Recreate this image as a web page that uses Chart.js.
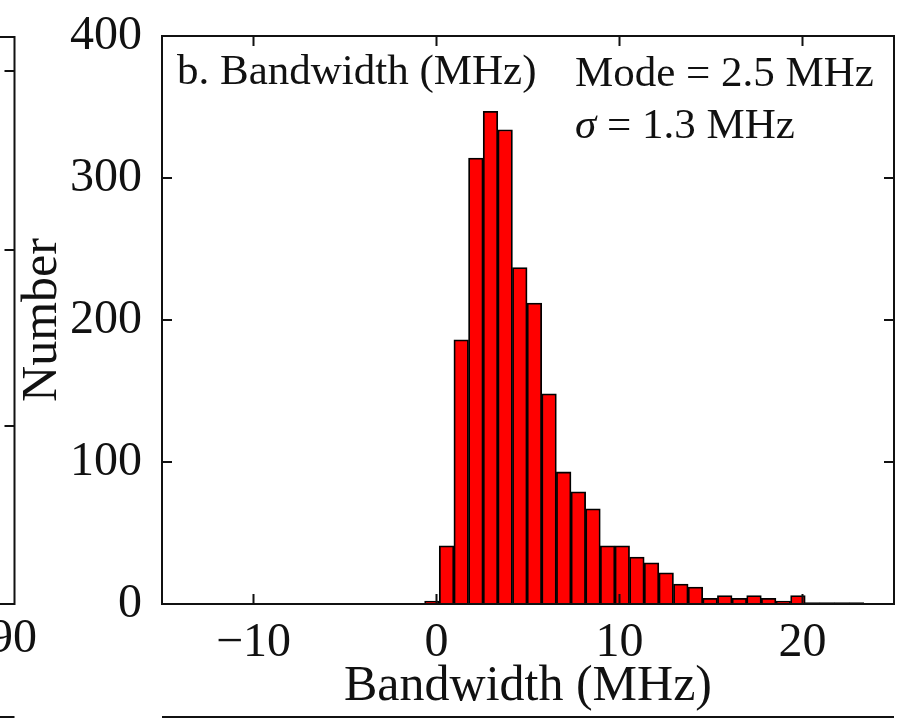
<!DOCTYPE html>
<html>
<head>
<meta charset="utf-8">
<title>b. Bandwidth (MHz)</title>
<script src="https://cdn.jsdelivr.net/npm/chart.js@4"></script>
<style>
  html, body { margin: 0; padding: 0; background: #fff; }
  canvas { display: block; }
</style>
</head>
<body>
<canvas id="chart" width="898" height="720"></canvas>
<script>
// histogram bins (MHz), left edge of each bin, bin width 0.8
const binStarts = [-0.65, 0.15, 0.95, 1.75, 2.55, 3.35, 4.15, 4.95, 5.75, 6.55,
  7.35, 8.15, 8.95, 9.75, 10.55, 11.35, 12.15, 12.95, 13.75, 14.55,
  15.35, 16.15, 16.95, 17.75, 18.55, 19.35, 20.15, 20.95, 21.75, 22.55];
const binWidth = 0.8;
const counts = [2, 41, 186, 314, 347, 334, 237, 212, 148, 93,
  79, 67, 41, 41, 33, 29, 22, 14, 12, 4,
  6, 4, 6, 4, 2, 6, 1, 1, 1, 1];

const xTicks = [-10, 0, 10, 20];
const yTicks = [0, 100, 200, 300, 400];
const notes = ["b. Bandwidth (MHz)", "Mode = 2.5 MHz", "\u03c3 = 1.3 MHz"];

const FONT = "'Liberation Serif', 'Times New Roman', serif";
const INK = "#111";

// inward ticks, box, annotations and the edges of the neighbouring panels
const framePlugin = {
  id: "frame",
  afterDraw(chart) {
    const ctx = chart.ctx;
    const a = chart.chartArea;
    const xs = chart.scales.x, ys = chart.scales.y;
    const tl = 10;
    ctx.save();
    ctx.strokeStyle = INK;
    ctx.lineWidth = 2;
    ctx.strokeRect(a.left, a.top, a.right - a.left, a.bottom - a.top);

    ctx.beginPath();
    xTicks.forEach(v => {
      const px = xs.getPixelForValue(v);
      ctx.moveTo(px, a.bottom); ctx.lineTo(px, a.bottom - tl);
      ctx.moveTo(px, a.top); ctx.lineTo(px, a.top + tl);
    });
    yTicks.slice(1, -1).forEach(v => {
      const py = ys.getPixelForValue(v);
      ctx.moveTo(a.left, py); ctx.lineTo(a.left + tl, py);
      ctx.moveTo(a.right, py); ctx.lineTo(a.right - tl, py);
    });

    // right edge of panel a (cut off)
    const ex = 14.5;
    ctx.moveTo(0, a.top + 1); ctx.lineTo(ex, a.top + 1);
    ctx.lineTo(ex, a.bottom); ctx.lineTo(0, a.bottom);
    [71, 250, 426].forEach(py => {
      ctx.moveTo(ex, py); ctx.lineTo(ex - tl, py);
    });
    // top edges of the panels below
    ctx.moveTo(0, 717); ctx.lineTo(ex, 717);
    ctx.moveTo(a.left, 717); ctx.lineTo(a.right, 717);
    ctx.stroke();

    ctx.fillStyle = INK;
    ctx.textBaseline = "alphabetic";
    ctx.font = "48px " + FONT;
    ctx.textAlign = "right";
    ctx.fillText("90", 37, 652);

    ctx.textAlign = "left";
    ctx.font = "43px " + FONT;
    ctx.fillText(notes[0], a.left + 15, a.top + 48);
    ctx.fillText(notes[1], 575, a.top + 50);
    ctx.font = "italic 43px " + FONT;
    ctx.fillText("\u03c3", 575, a.top + 102);
    const sw = ctx.measureText("\u03c3").width;
    ctx.font = "43px " + FONT;
    ctx.fillText(notes[2].slice(1), 575 + sw, a.top + 102);
    ctx.restore();
  }
};

new Chart(document.getElementById("chart"), {
  type: "bar",
  data: {
    datasets: [{
      data: binStarts.map((s, i) => ({ x: s + binWidth / 2, y: counts[i] })),
      backgroundColor: "#ff0000",
      borderColor: "#000",
      borderWidth: 1.8,
      barPercentage: 1,
      categoryPercentage: 1
    }]
  },
  options: {
    responsive: false,
    devicePixelRatio: 1,
    animation: false,
    layout: { padding: { top: 35, right: 4, left: 0, bottom: 0 } },
    plugins: { legend: { display: false }, tooltip: { enabled: false } },
    scales: {
      x: {
        type: "linear",
        min: -15,
        max: 25,
        offset: false,
        grid: { display: false },
        border: { display: false },
        afterBuildTicks: s => { s.ticks = xTicks.map(v => ({ value: v })); },
        afterFit: s => { s.height = 116; },
        ticks: {
          padding: 3,
          color: INK,
          font: { family: FONT, size: 48 },
          maxRotation: 0,
          callback: v => (v < 0 ? "\u2212" + Math.abs(v) : String(v))
        },
        title: {
          display: true,
          text: "Bandwidth (MHz)",
          color: INK,
          font: { family: FONT, size: 50 },
          padding: { top: 0, bottom: 3 }
        }
      },
      y: {
        min: 0,
        max: 400,
        grid: { display: false },
        border: { display: false },
        afterBuildTicks: s => { s.ticks = yTicks.map(v => ({ value: v })); },
        afterFit: s => { s.width = 162; },
        ticks: {
          padding: 12,
          color: INK,
          font: { family: FONT, size: 48, lineHeight: 1 }
        },
        title: {
          display: true,
          text: "Number",
          color: INK,
          font: { family: FONT, size: 50 },
          padding: { top: 13, bottom: 0 }
        }
      }
    }
  },
  plugins: [framePlugin]
});
</script>
</body>
</html>
